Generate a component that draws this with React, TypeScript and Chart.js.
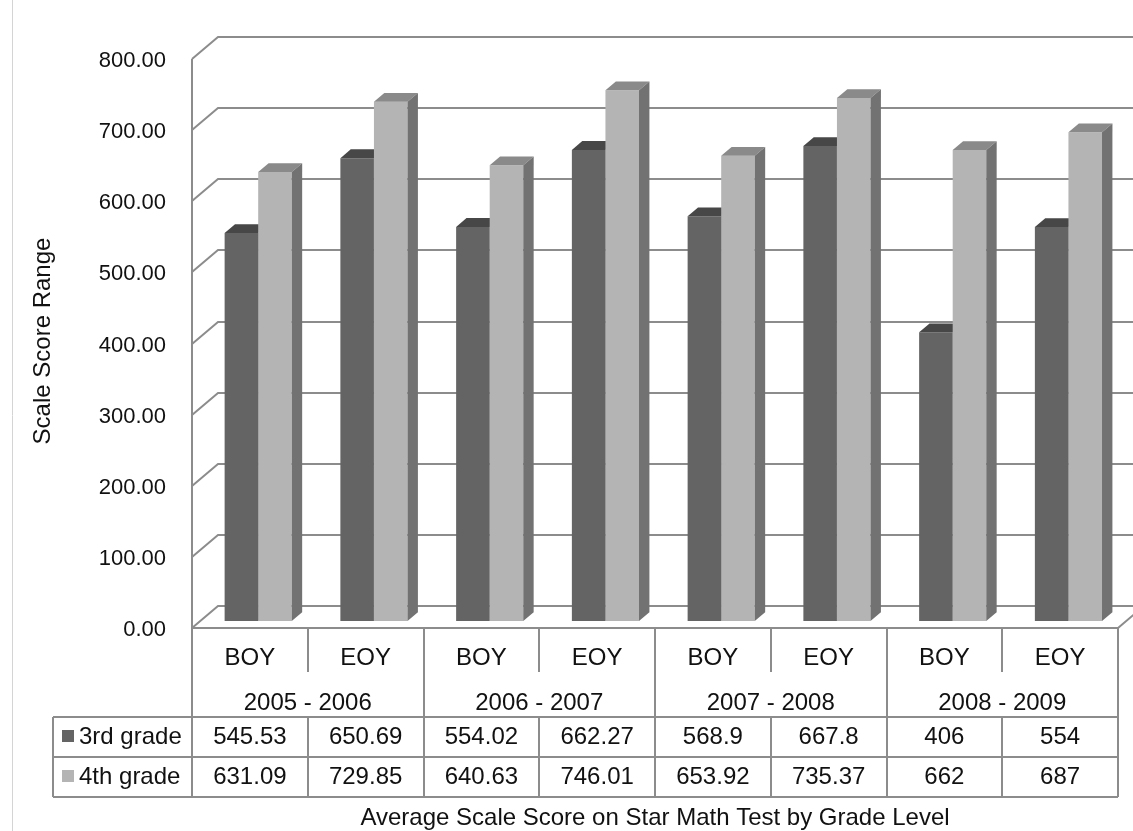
import React, { useEffect, useRef } from "react";
import { Chart, registerables } from "chart.js";

Chart.register(...registerables);

// ---- data ----
const periods = ["BOY", "EOY", "BOY", "EOY", "BOY", "EOY", "BOY", "EOY"];
const years = ["2005 - 2006", "2006 - 2007", "2007 - 2008", "2008 - 2009"];
const thirdGrade = [545.53, 650.69, 554.02, 662.27, 568.9, 667.8, 406, 554];
const fourthGrade = [631.09, 729.85, 640.63, 746.01, 653.92, 735.37, 662, 687];
const seriesNames = ["3rd grade", "4th grade"];
const yTickValues = [0, 100, 200, 300, 400, 500, 600, 700, 800];
const yTitle = "Scale Score Range";
const xTitle = "Average Scale Score on Star Math Test by Grade Level";

// ---- style ----
const FRONT = ["#646464", "#b4b4b4"];
const TOP = ["#474747", "#8a8a8a"];
const SIDE = ["#404040", "#727272"];
const GRID = "#8c8c8c";
const DX = 26;
const DY = -22;
const BAR_FRONT = 0.32;
const BAR_BACK = 0.72;
const FONT = "'Liberation Sans', Arial, sans-serif";
const TABLE_FONT = `24px ${FONT}`;
const TICK_FONT = `22px ${FONT}`;

function drawText(
  ctx: CanvasRenderingContext2D,
  text: string,
  x: number,
  y: number,
  align: CanvasTextAlign,
  font: string
) {
  ctx.save();
  ctx.font = font;
  ctx.fillStyle = "#111";
  ctx.textAlign = align;
  ctx.textBaseline = "middle";
  ctx.fillText(text, x, y);
  ctx.restore();
}

function seg(ctx: CanvasRenderingContext2D, pts: number[][]) {
  ctx.beginPath();
  ctx.moveTo(pts[0][0], pts[0][1]);
  for (let i = 1; i < pts.length; i++) ctx.lineTo(pts[i][0], pts[i][1]);
  ctx.stroke();
}

function poly(ctx: CanvasRenderingContext2D, pts: number[][], color: string) {
  ctx.fillStyle = color;
  ctx.beginPath();
  ctx.moveTo(pts[0][0], pts[0][1]);
  for (let i = 1; i < pts.length; i++) ctx.lineTo(pts[i][0], pts[i][1]);
  ctx.closePath();
  ctx.fill();
}

const threeD = {
  id: "threeD",
  beforeDatasetsDraw(chart: any) {
    const { ctx, chartArea: a } = chart;
    const y = chart.scales.y;
    ctx.save();
    ctx.strokeStyle = GRID;
    ctx.lineWidth = 2;
    yTickValues.forEach((v) => {
      const yf = Math.round(y.getPixelForValue(v));
      seg(ctx, [
        [a.left, yf],
        [a.left + DX, yf + DY],
        [a.right + DX + 40, yf + DY],
      ]);
    });
    const top = Math.round(y.getPixelForValue(yTickValues[yTickValues.length - 1]));
    seg(ctx, [
      [a.left, top],
      [a.left, a.bottom],
    ]);
    seg(ctx, [
      [a.left, a.bottom],
      [a.right, a.bottom],
      [a.right + DX, a.bottom + DY],
    ]);
    ctx.restore();
  },
  afterDatasetsDraw(chart: any) {
    const ctx = chart.ctx;
    const ox = DX * BAR_FRONT;
    const oy = DY * BAR_FRONT;
    const bdx = DX * (BAR_BACK - BAR_FRONT);
    const bdy = DY * (BAR_BACK - BAR_FRONT);
    const metas = [chart.getDatasetMeta(0), chart.getDatasetMeta(1)];
    const n = periods.length;
    ctx.save();
    ctx.translate(ox, oy);
    for (let c = 0; c < n; c++) {
      metas.forEach((meta, i) => {
        const el = meta.data[c];
        const { x, y, base, width } = el.getProps(["x", "y", "base", "width"], true);
        const x0 = x - width / 2;
        const x1 = x + width / 2;
        poly(ctx, [[x0, y], [x1, y], [x1, base], [x0, base]], FRONT[i]);
        poly(ctx, [[x0, y], [x0 + bdx, y + bdy], [x1 + bdx, y + bdy], [x1, y]], TOP[i]);
        poly(ctx, [[x1, y], [x1 + bdx, y + bdy], [x1 + bdx, base + bdy], [x1, base]], SIDE[i]);
      });
    }
    ctx.restore();
  },
  afterDraw(chart: any) {
    const { ctx, chartArea: a } = chart;
    const y = chart.scales.y;
    const xs = chart.scales.x;
    const n = periods.length;
    const cw = (a.right - a.left) / n;

    // outer chart border (left)
    ctx.save();
    ctx.strokeStyle = "#d4d4d4";
    ctx.lineWidth = 1;
    seg(ctx, [
      [12.5, 0],
      [12.5, 831],
    ]);
    ctx.restore();

    // y tick labels
    yTickValues.forEach((v) => {
      drawText(ctx, v.toFixed(2), 166, y.getPixelForValue(v) + 2, "right", TICK_FONT);
    });

    // y title
    ctx.save();
    ctx.translate(43, 341);
    ctx.rotate(-Math.PI / 2);
    ctx.font = `24px ${FONT}`;
    ctx.fillStyle = "#111";
    ctx.textAlign = "center";
    ctx.textBaseline = "middle";
    ctx.fillText(yTitle, 0, 0);
    ctx.restore();

    // table
    const t0 = a.bottom;
    const minorEnd = t0 + 44;
    const r1 = t0 + 89;
    const r2 = t0 + 129;
    const r3 = t0 + 169;
    const legLeft = 53;
    ctx.save();
    ctx.strokeStyle = GRID;
    ctx.lineWidth = 2;
    for (let k = 0; k <= n; k++) {
      const xx = Math.round(a.left + k * cw);
      if (k % 2 === 0) {
        seg(ctx, [
          [xx, t0],
          [xx, r3],
        ]);
      } else {
        seg(ctx, [
          [xx, t0],
          [xx, minorEnd],
        ]);
        seg(ctx, [
          [xx, r1],
          [xx, r3],
        ]);
      }
    }
    [r1, r2, r3].forEach((yy) =>
      seg(ctx, [
        [legLeft, yy],
        [a.right, yy],
      ])
    );
    seg(ctx, [
      [legLeft, r1],
      [legLeft, r3],
    ]);
    ctx.restore();

    periods.forEach((p, i) => {
      const cx = xs.getPixelForValue(i);
      drawText(ctx, p, cx, t0 + 30, "center", TABLE_FONT);
      drawText(ctx, String(thirdGrade[i]), cx, r1 + 20, "center", TABLE_FONT);
      drawText(ctx, String(fourthGrade[i]), cx, r2 + 20, "center", TABLE_FONT);
    });
    years.forEach((yr, g) => {
      const cx = a.left + (2 * g + 1) * cw;
      drawText(ctx, yr, cx, t0 + 75, "center", TABLE_FONT);
    });

    // legend keys
    [r1, r2].forEach((rt, i) => {
      ctx.fillStyle = FRONT[i];
      ctx.fillRect(62, rt + 13, 12, 12);
      drawText(ctx, seriesNames[i], 79, rt + 20, "left", TABLE_FONT);
    });

    // x title
    drawText(ctx, xTitle, (a.left + a.right) / 2, 818, "center", `24px ${FONT}`);
  },
};

const App = () => {
  const ref = useRef<HTMLCanvasElement>(null);
  useEffect(() => {
    const canvas = ref.current;
    if (!canvas) return;
    const chart = new Chart(canvas, {
      type: "bar",
      data: {
        labels: periods,
        datasets: [
          {
            label: seriesNames[0],
            data: thirdGrade,
            backgroundColor: "rgba(0,0,0,0)",
            borderWidth: 0,
            categoryPercentage: 0.58,
            barPercentage: 1,
          },
          {
            label: seriesNames[1],
            data: fourthGrade,
            backgroundColor: "rgba(0,0,0,0)",
            borderWidth: 0,
            categoryPercentage: 0.58,
            barPercentage: 1,
          },
        ],
      },
      options: {
        responsive: false,
        maintainAspectRatio: false,
        animation: false,
        devicePixelRatio: 1,
        layout: { padding: { left: 192, right: 15, top: 59, bottom: 203 } },
        plugins: {
          legend: { display: false },
          tooltip: { enabled: false },
          title: { display: false },
        },
        scales: {
          x: { display: false },
          y: { display: false, min: 0, max: 800, ticks: { stepSize: 100 } },
        },
      },
      plugins: [threeD],
    });
    return () => chart.destroy();
  }, []);
  return (
    <div style={{ position: "absolute", left: 0, top: 0, width: 1133, height: 831, background: "#fff" }}>
      <canvas ref={ref} width={1133} height={831} style={{ display: "block", width: 1133, height: 831 }} />
    </div>
  );
};

export default App;
